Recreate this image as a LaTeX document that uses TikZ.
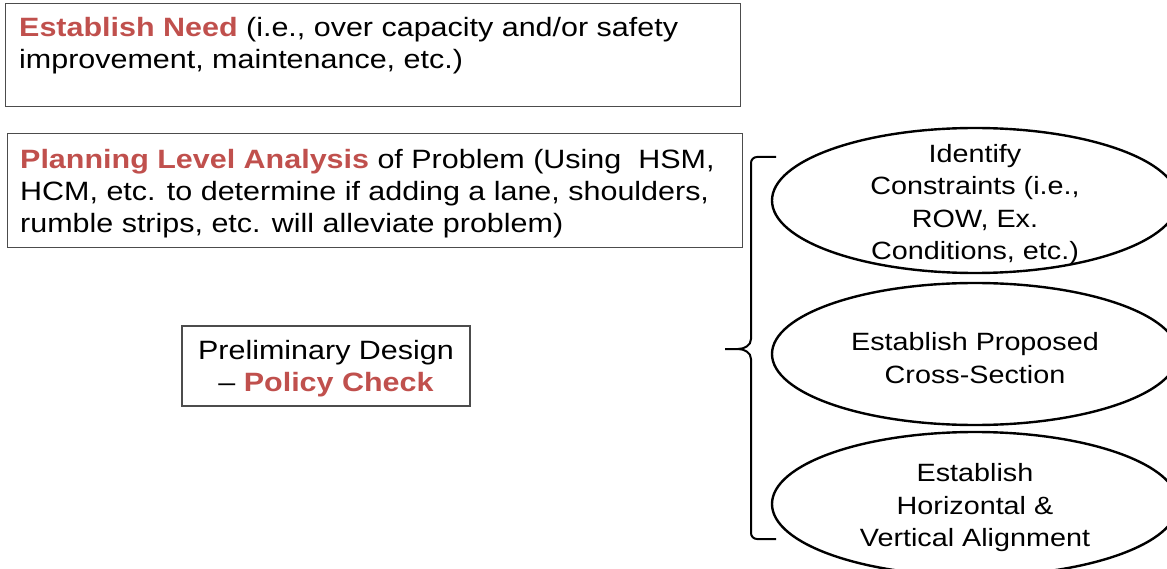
\documentclass[tikz,border=0pt]{standalone}
\usepackage{fontspec}
\setmainfont{Liberation Sans}[FakeStretch=1.15]
\usetikzlibrary{shapes.geometric}
\definecolor{keyred}{RGB}{192,80,77}
\tikzset{
  planbox/.style={draw=black!70, line width=1.2pt, inner sep=0pt},
  boxtext/.style={inner sep=0pt, align=left, font=\fontsize{26.5}{32}\selectfont},
  stepoval/.style={draw, ellipse, line width=2.4pt, minimum width=406pt,
    minimum height=144pt, inner sep=0pt},
  ovaltext/.style={inner sep=0pt, align=center, yshift=-4pt,
    font=\fontsize{25}{32.5}\selectfont},
}
\newcommand{\keyword}[1]{\textbf{\color{keyred}#1}}

\begin{document}
\begin{tikzpicture}[x=1pt,y=-1pt]
    \useasboundingbox (0,0) rectangle (1167,569);
    \clip (0,0) rectangle (1167,569);

    % Left column
    \node[planbox, minimum width=735pt, minimum height=103pt, anchor=north west] (need) at (5,3) {};
    \node[boxtext, anchor=north west] (needtext) at (19,17.5)
      {\keyword{Establish Need} (i.e., over capacity and/or safety\\
       improvement, maintenance, etc.)};

    \node[planbox, minimum width=735pt, minimum height=114pt, anchor=north west] (plan) at (7,133) {};
    \node[boxtext, anchor=north west] (plantext) at (20,149.5)
      {\keyword{Planning Level Analysis} of Problem (Using\ \ HSM,\\
       HCM, etc. to determine if adding a lane, shoulders,\\
       rumble strips, etc. will alleviate problem)};

    \node[planbox, minimum width=288pt, minimum height=80pt] (prelim) at (326,366) {};
    \node[boxtext, align=center, yshift=-3pt] (prelimtext) at (prelim)
      {Preliminary Design\\ -- \keyword{Policy Check}};

    % Right column
    \node[stepoval, minimum height=145pt] (constraints) at (975,200.5) {};
    \node[ovaltext] (constraintstext) at (constraints)
      {Identify\\ Constraints (i.e.,\\ ROW, Ex.\\ Conditions, etc.)};
    \node[stepoval, minimum height=142pt] (section) at (975,354) {};
    \node[ovaltext] (sectiontext) at (section)
      {Establish Proposed\\ Cross-Section};
    \node[stepoval] (alignment) at (975,504) {};
    \node[ovaltext] (alignmenttext) at (alignment)
      {Establish\\ Horizontal \&\\ Vertical Alignment};

    % Brace
    \draw[line width=2pt]
      (776,157) -- (757,157) to[out=180,in=90] (751,163) -- (751,339)
        to[out=270,in=0] (738,349) -- (725,349)
      (738,349) to[out=0,in=90] (751,359) -- (751,533)
        to[out=270,in=180] (757,539) -- (776,539);
\end{tikzpicture}
\end{document}
